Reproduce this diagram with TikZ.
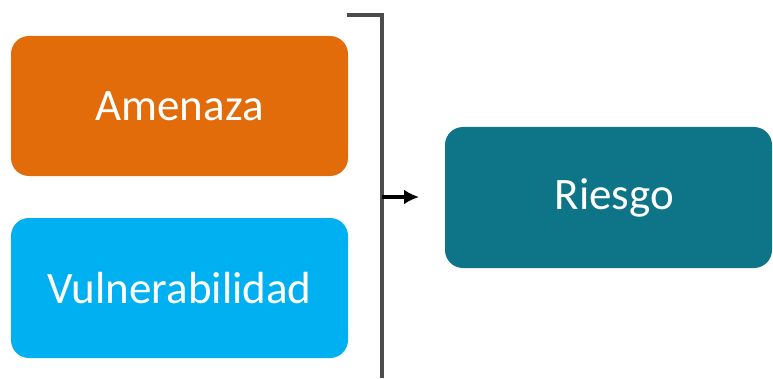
\documentclass[tikz,border=0pt]{standalone}
\usepackage{fontspec}
\setmainfont{Carlito}
\usetikzlibrary{arrows.meta}
\definecolor{amenazaC}{HTML}{E36C0A}
\definecolor{vulnC}{HTML}{00B0F0}
\definecolor{riesgoC}{HTML}{0E7488}
\begin{document}
\begin{tikzpicture}[x=1pt,y=1pt,
  box/.style={rectangle, rounded corners=18pt, draw=none, text=white,
    font=\fontsize{45}{54}\selectfont, inner sep=0pt},
  bracketline/.style={line width=3.4pt, draw=black!70},
  arrowline/.style={line width=3.2pt, -{Latex[length=15pt,width=15pt]}}]
\useasboundingbox (0,0) rectangle (773,378);
\node[box, fill=amenazaC, minimum width=337pt, minimum height=140pt] (amenaza) at (179.5,272) {Amenaza};
\node[box, fill=vulnC, minimum width=337pt, minimum height=140pt] (vuln) at (179.5,90) {Vulnerabilidad};
\node[box, fill=riesgoC, minimum width=327pt, minimum height=141pt] (riesgo) at (608.5,180.5) {\hspace*{12pt}Riesgo};
\coordinate (btl) at (347,363);
\coordinate (btr) at (382,363);
\coordinate (bbot) at (382,0);
\coordinate (bmid) at (382,181);
\coordinate (aend) at (419,181);
\draw[bracketline] (btl) -- (btr) -- (bbot);
\draw[arrowline] (bmid) -- (aend);
\end{tikzpicture}
\end{document}
